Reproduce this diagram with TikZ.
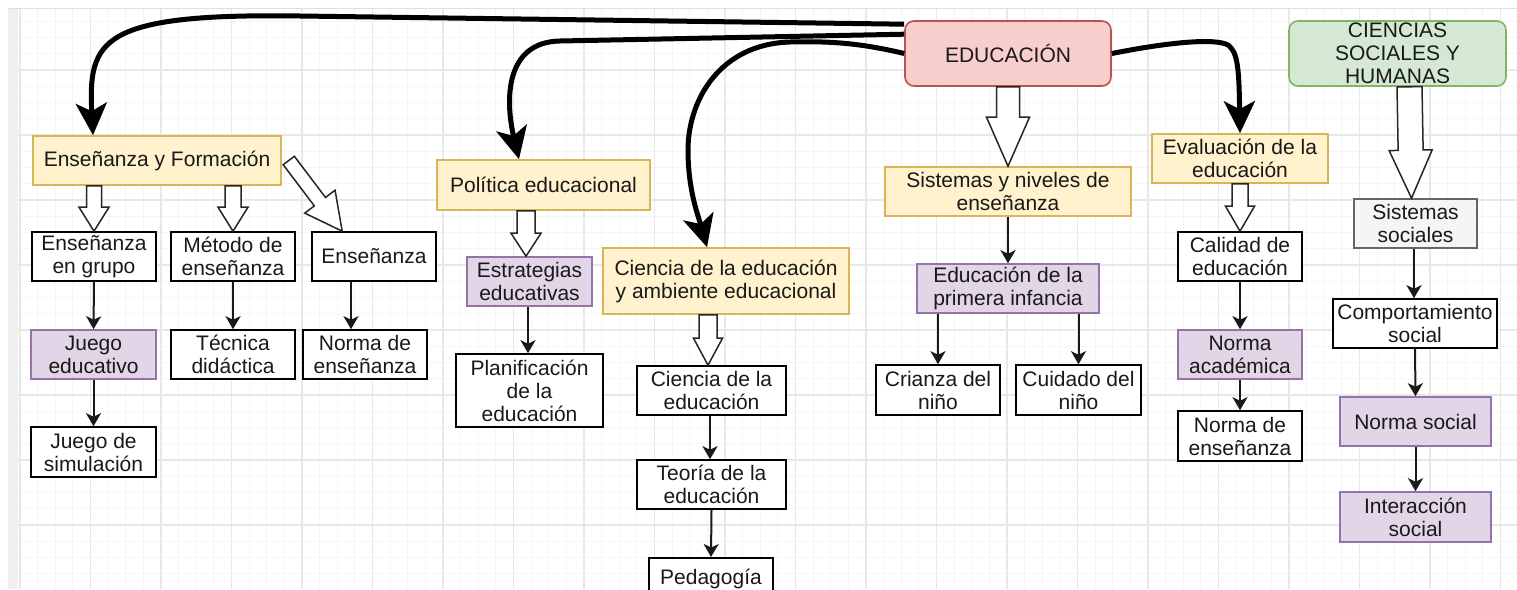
\documentclass[tikz,border=0pt]{standalone}
\usepackage{fontspec}
\setmainfont{Liberation Sans}
\usetikzlibrary{arrows.meta,calc}
\definecolor{yfill}{HTML}{FFF2CC}\definecolor{ystroke}{HTML}{D6B656}
\definecolor{pfill}{HTML}{E1D5E7}\definecolor{pstroke}{HTML}{9673A6}
\definecolor{rfill}{HTML}{F8CECC}\definecolor{rstroke}{HTML}{B85450}
\definecolor{gfill}{HTML}{D5E8D4}\definecolor{gstroke}{HTML}{82B366}
\definecolor{sfill}{HTML}{F5F5F5}\definecolor{sstroke}{HTML}{666666}
\definecolor{gridminor}{HTML}{F5F5F5}\definecolor{gridmajor}{HTML}{E8E8E8}
\tikzset{
  txt/.style={font=\fontsize{21}{23}\selectfont, align=center, inner sep=0pt, text=black!90},
  wbox/.style={txt, draw=black, fill=white, line width=1.6pt},
  ybox/.style={txt, draw=ystroke, fill=yfill, line width=1.6pt},
  pbox/.style={txt, draw=pstroke, fill=pfill, line width=1.6pt},
  rbox/.style={txt, draw=rstroke, fill=rfill, line width=1.6pt, rounded corners=9pt},
  gbox/.style={txt, draw=gstroke, fill=gfill, line width=1.6pt, rounded corners=9pt},
  sbox/.style={txt, draw=sstroke, fill=sfill, line width=1.6pt},
  tarr/.style={draw=black!90, line width=2pt, -{Stealth[length=13pt,width=15pt,inset=3.5pt]}},
  karr/.style={draw=black, line width=5pt, -{Stealth[length=32pt,width=31pt,inset=8pt]}},
  barr/.style={draw=black!85, line width=1.5pt, fill=white, line join=miter},
  gminor/.style={draw=gridminor, line width=1pt},
  gmajor/.style={draw=gridmajor, line width=1.2pt}
}
% #1 start, #2 end, #3 half shaft, #4 half head, #5 head length
\newcommand\blockarrow[5]{%
  \coordinate (ba-s) at (#1);
  \coordinate (ba-e) at (#2);
  \coordinate (ba-h) at ($(ba-e)!#5!(ba-s)$);
  \draw[barr] ($(ba-s)!#3!90:(ba-e)$) -- ($(ba-h)!#3!-90:(ba-s)$) -- ($(ba-h)!#4!-90:(ba-s)$)
    -- (ba-e) -- ($(ba-h)!#4!90:(ba-s)$) -- ($(ba-h)!#3!90:(ba-s)$) -- ($(ba-s)!#3!-90:(ba-e)$) -- cycle;
}
\begin{document}
\begin{tikzpicture}[x=1pt,y=-1pt]
\useasboundingbox (0,0) rectangle (1517,589);
\clip (0,0) rectangle (1517,589);
\fill[white] (0,0) rectangle (1517,589);
% page edge and grid
\fill[black!6] (8,8) rectangle (18,589);
\foreach \i in {0,...,85} \draw[gminor] ({20+17.625*\i},8) -- ({20+17.625*\i},589);
\foreach \j in {1,...,35} \draw[gminor] (18,{5+16.25*\j}) -- (1517,{5+16.25*\j});
\foreach \i in {0,...,21} \draw[gmajor] ({20+70.5*\i},8) -- ({20+70.5*\i},589);
\foreach \j in {1,...,8} \draw[gmajor] (18,{5+65*\j}) -- (1517,{5+65*\j});
\draw[black!12, line width=1pt] (8,8) -- (1517,8);

% nodes
\node[rbox, minimum width=206pt, minimum height=65pt] (edu) at (1008,53.5) {EDUCACIÓN};
\node[gbox, minimum width=217pt, minimum height=65pt] (csh) at (1397.5,53.5) {CIENCIAS\\SOCIALES Y\\HUMANAS};

\node[ybox, minimum width=248pt, minimum height=49pt] (eyf) at (157,160.5) {Enseñanza y Formación};
\node[wbox, minimum width=124pt, minimum height=49pt] (egr) at (94,256.5) {Enseñanza\\en grupo};
\node[wbox, minimum width=124pt, minimum height=49pt] (met) at (233,256.5) {Método de\\enseñanza};
\node[wbox, minimum width=124pt, minimum height=49pt] (ens) at (374,256.5) {Enseñanza};
\node[pbox, minimum width=125pt, minimum height=49pt] (jed) at (93.5,354.5) {Juego\\educativo};
\node[wbox, minimum width=124pt, minimum height=49pt] (tec) at (233,354.5) {Técnica\\didáctica};
\node[wbox, minimum width=124pt, minimum height=49pt] (nde) at (365,354.5) {Norma de\\enseñanza};
\node[wbox, minimum width=125pt, minimum height=50pt] (jsi) at (93.5,452) {Juego de\\simulación};

\node[ybox, minimum width=213pt, minimum height=50pt] (pol) at (543.5,185) {Política educacional};
\node[pbox, minimum width=125pt, minimum height=49pt] (est) at (529.5,281.5) {Estrategias\\educativas};
\node[wbox, minimum width=147pt, minimum height=73pt] (pla) at (529.5,390.5) {Planificación\\de la\\educación};

\node[ybox, minimum width=246pt, minimum height=66pt] (cya) at (726,281) {Ciencia de la educación\\y ambiente educacional};
\node[wbox, minimum width=149pt, minimum height=49pt] (cde) at (711.5,390.5) {Ciencia de la\\educación};
\node[wbox, minimum width=149pt, minimum height=49pt] (teo) at (711.5,484.5) {Teoría de la\\educación};
\node[wbox, minimum width=124pt, minimum height=46pt, anchor=north] (ped) at (711,557) {\raisebox{9pt}{Pedagogía}};

\node[ybox, minimum width=246pt, minimum height=49pt] (syn) at (1008,191.5) {Sistemas y niveles de\\enseñanza};
\node[pbox, minimum width=182pt, minimum height=49pt] (epi) at (1008,288.5) {Educación de la\\primera infancia};
\node[wbox, minimum width=124pt, minimum height=50pt] (cri) at (938,390) {Crianza del\\niño};
\node[wbox, minimum width=125pt, minimum height=50pt] (cui) at (1078.5,390) {Cuidado del\\niño};

\node[ybox, minimum width=176pt, minimum height=49pt] (eva) at (1240,158.5) {Evaluación de la\\educación};
\node[wbox, minimum width=124pt, minimum height=49pt] (cal) at (1240,256.5) {Calidad de\\educación};
\node[pbox, minimum width=124pt, minimum height=49pt] (nac) at (1240,354.5) {Norma\\académica};
\node[wbox, minimum width=124pt, minimum height=50pt] (nde2) at (1240,436) {Norma de\\enseñanza};

\node[sbox, minimum width=123pt, minimum height=49pt] (sso) at (1415.5,223.5) {Sistemas\\sociales};
\node[wbox, minimum width=164pt, minimum height=49pt] (com) at (1415,323.5) {Comportamiento\\social};
\node[pbox, minimum width=151pt, minimum height=49pt] (nso) at (1415.5,421.5) {Norma social};
\node[pbox, minimum width=151pt, minimum height=50pt] (int) at (1415.5,517) {Interacción\\social};

% thick curved connectors
\draw[karr] ([yshift=-4pt]edu.north west) -- (300,16) .. controls (100,13) and (88,40) .. ([xshift=-64pt]eyf.north);
\draw[karr] ([yshift=-14pt]edu.north west) -- (560,41) .. controls (505,42) and (505,100) .. ([xshift=-24.5pt]pol.north);
\draw[karr] (edu.west) .. controls (860,43) and (830,41) .. (790,42) .. controls (720,44) and (688,100) .. (688,150) .. controls (688,190) and (698,215) .. ([xshift=-19pt]cya.north);
\draw[karr] (edu.east) .. controls (1170,42) and (1215,38) .. (1228,45) .. controls (1238,52) and (1239,70) .. (eva.north);

% block arrows
\blockarrow{edu.south}{syn.north}{11.5pt}{21.5pt}{49pt}
\blockarrow{[xshift=12pt]csh.south}{[xshift=-4pt]sso.north}{12.5pt}{21.5pt}{48pt}
\blockarrow{eva.south}{cal.north}{8pt}{14.5pt}{25pt}
\blockarrow{eyf.south -| egr.north}{egr.north}{7.5pt}{15pt}{24pt}
\blockarrow{eyf.south -| met.north}{met.north}{8pt}{15pt}{24pt}
\blockarrow{[xshift=7pt]eyf.east}{[xshift=31pt]ens.north west}{7pt}{19pt}{37pt}
\blockarrow{[xshift=-17.5pt]pol.south}{[xshift=-3.5pt]est.north}{9pt}{15pt}{23pt}
\blockarrow{[xshift=-18pt]cya.south}{[xshift=-3.5pt]cde.north}{9pt}{14.5pt}{27pt}

% thin connectors
\draw[tarr] (egr.south) -- (jed.north);
\draw[tarr] (met.south) -- (tec.north);
\draw[tarr] ([xshift=-23pt]ens.south) -- ([xshift=-14pt]nde.north);
\draw[tarr] (jed.south) -- (jsi.north);
\draw[tarr] ([xshift=-1.5pt]est.south) -- ([xshift=-1.5pt]pla.north);
\draw[tarr] ([xshift=-1.5pt]cde.south) -- ([xshift=-1.5pt]teo.north);
\draw[tarr] (teo.south) -- (ped.north);
\draw[tarr] (syn.south) -- (epi.north);
\draw[tarr] (epi.south -| cri.north) -- (cri.north);
\draw[tarr] (epi.south -| cui.north) -- (cui.north);
\draw[tarr] (cal.south) -- (nac.north);
\draw[tarr] (nac.south) -- (nde2.north);
\draw[tarr] ([xshift=-1.5pt]sso.south) -- ([xshift=-1pt]com.north);
\draw[tarr] (com.south) -- (nso.north);
\draw[tarr] (nso.south) -- (int.north);
\end{tikzpicture}
\end{document}
